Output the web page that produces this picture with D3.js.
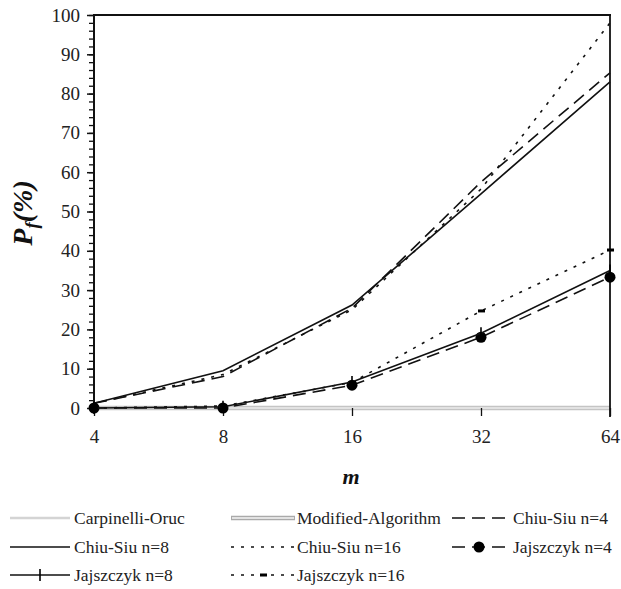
<!DOCTYPE html>
<meta charset="utf-8">
<head>
    <style>
        *{ padding: 0; margin: 0; }
        body{ background: #fff; }
        svg{ display: block; }
    </style>
</head>
<body>
    <svg id="chart" width="621" height="589" font-family="'Liberation Serif', 'Times New Roman', serif"></svg>

    <script src="https://cdn.jsdelivr.net/npm/d3@7/dist/d3.min.js"></script>
    <script>
        // m 值（横轴）
        var mValues = [4, 8, 16, 32, 64];
        var yTicks = [0, 10, 20, 30, 40, 50, 60, 70, 80, 90, 100];

        // 各系列 Pf(%)
        var carpinelliOruc    = [0, 0, 0, 0, 0];
        var modifiedAlgorithm = [0, 0, 0, 0, 0];
        var chiuSiuN4  = [1.2, 8, 25.4, 57.5, 85.3];
        var chiuSiuN8  = [1.2, 9.5, 26.2, 54.5, 83];
        var chiuSiuN16 = [1.2, 8.5, 25, 55.7, 98];
        var jajszczykN4  = [0, 0, 5.8, 18, 33.3];
        var jajszczykN8  = [0, 0.3, 6.6, 19, 35];
        var jajszczykN16 = [0, 0.5, 6.5, 24.7, 40.2];

        var series = [
            {name: "Carpinelli-Oruc", values: carpinelliOruc, style: "light"},
            {name: "Modified-Algorithm", values: modifiedAlgorithm, style: "double"},
            {name: "Chiu-Siu n=4", values: chiuSiuN4, dash: "13,7"},
            {name: "Chiu-Siu n=8", values: chiuSiuN8, dash: null},
            {name: "Chiu-Siu n=16", values: chiuSiuN16, dash: "3,7"},
            {name: "Jajszczyk n=4", values: jajszczykN4, dash: "13,7", marker: "circle"},
            {name: "Jajszczyk n=8", values: jajszczykN8, dash: null, marker: "plus"},
            {name: "Jajszczyk n=16", values: jajszczykN16, dash: "3,7", marker: "bar"}
        ];

        var FONT = "'Liberation Serif', 'Times New Roman', serif";
        var svg = d3.select("#chart");
        var padL = 94, padR = 610, padT = 15, padB = 408;

        var x = d3.scalePoint().domain(mValues).range([padL, padR]);
        var y = d3.scaleLinear().domain([0, 100]).range([padB, padT]);

        var line = d3.line()
            .x(function(d, i) { return x(mValues[i]); })
            .y(function(d) { return y(d); });

        // 灰色基线系列
        var g = svg.append("g");
        series.forEach(function(s) {
            if (s.style === "light") {
                g.append("path").attr("d", line(s.values))
                    .attr("fill", "none").attr("stroke", "#d4d4d4").attr("stroke-width", 2.5);
            } else if (s.style === "double") {
                g.append("path").attr("d", line(s.values))
                    .attr("fill", "none").attr("stroke", "#c4c4c4").attr("stroke-width", 4.5);
                g.append("path").attr("d", line(s.values))
                    .attr("fill", "none").attr("stroke", "#e2e2e2").attr("stroke-width", 2);
            }
        });

        // 坐标轴
        var yAxis = d3.axisLeft(y).tickValues(yTicks).tickSize(7).tickPadding(7);
        var yMinor = d3.axisLeft(y).tickValues(d3.range(0, 101, 2)).tickSize(5).tickFormat("");

        var ya = svg.append("g").attr("transform", "translate(" + padL + ",0)").call(yMinor);
        ya.select(".domain").remove();
        ya.selectAll("line").attr("stroke", "#111").attr("stroke-width", 1.3).attr("x1", 1);

        var yb = svg.append("g").attr("transform", "translate(" + padL + ",0)").call(yAxis)
            .attr("font-family", FONT).attr("font-size", 19);
        yb.select(".domain").remove();
        yb.selectAll("line").attr("stroke", "#111").attr("stroke-width", 1.5).attr("x1", 1);
        yb.selectAll("text").attr("fill", "#222");

        var xAxis = d3.axisBottom(x).tickSize(8).tickPadding(14);
        var xa = svg.append("g").attr("transform", "translate(0," + padB + ")").call(xAxis)
            .attr("font-family", FONT).attr("font-size", 19);
        xa.select(".domain").remove();
        xa.selectAll("line").attr("stroke", "#111").attr("stroke-width", 1.3);
        xa.selectAll("text").attr("fill", "#222");

        svg.append("line").attr("x1", padL).attr("x2", padL).attr("y1", padT - 1).attr("y2", padB + 1)
            .attr("stroke", "#111").attr("stroke-width", 2);
        svg.append("line").attr("x1", padL).attr("x2", padR + 1).attr("y1", padT).attr("y2", padT)
            .attr("stroke", "#111").attr("stroke-width", 1.8);
        svg.append("line").attr("x1", padR).attr("x2", padR).attr("y1", padT).attr("y2", padB + 9)
            .attr("stroke", "#111").attr("stroke-width", 1.8);

        // 黑色系列
        function drawMarker(sel, type, cx, cy) {
            if (type === "circle") {
                sel.append("circle").attr("cx", cx).attr("cy", cy).attr("r", 5.5).attr("fill", "#000");
            } else if (type === "plus") {
                sel.append("line").attr("x1", cx).attr("x2", cx).attr("y1", cy - 6).attr("y2", cy + 6)
                    .attr("stroke", "#000").attr("stroke-width", 1.6);
            } else if (type === "bar") {
                sel.append("rect").attr("x", cx - 3).attr("y", cy - 1.5).attr("width", 7).attr("height", 3)
                    .attr("fill", "#000");
            }
        }

        series.forEach(function(s) {
            if (s.style) return;
            var p = svg.append("path").attr("d", line(s.values))
                .attr("fill", "none").attr("stroke", "#111").attr("stroke-width", 1.6);
            if (s.dash) p.attr("stroke-dasharray", s.dash);
            if (s.marker) {
                s.values.forEach(function(v, i) { drawMarker(svg, s.marker, x(mValues[i]), y(v)); });
            }
        });

        // 轴标题
        var yt = svg.append("text")
            .attr("transform", "translate(32,213) rotate(-90)")
            .attr("text-anchor", "middle")
            .attr("font-family", FONT)
            .attr("font-weight", "bold").attr("font-style", "italic")
            .attr("font-size", 28).attr("fill", "#111");
        yt.append("tspan").text("P");
        yt.append("tspan").attr("font-size", 19).attr("dy", 6).text("f");
        yt.append("tspan").attr("dy", -6).text("(%)");

        svg.append("text").attr("x", 351).attr("y", 484).attr("text-anchor", "middle")
            .attr("font-family", FONT)
            .attr("font-weight", "bold").attr("font-style", "italic").attr("font-size", 22)
            .attr("fill", "#111").text("m");

        // 图例
        var legendCols = [{x0: 10, x1: 70, tx: 74}, {x0: 231, x1: 295, tx: 297}, {x0: 452, x1: 506, tx: 513}];
        var legendRows = [518, 547, 575];
        var legendOrder = ["Carpinelli-Oruc", "Modified-Algorithm", "Chiu-Siu n=4",
            "Chiu-Siu n=8", "Chiu-Siu n=16", "Jajszczyk n=4",
            "Jajszczyk n=8", "Jajszczyk n=16"];

        legendOrder.forEach(function(name, k) {
            var s = series.filter(function(d) { return d.name === name; })[0];
            var c = legendCols[k % 3], ly = legendRows[Math.floor(k / 3)];
            var lg = svg.append("g");
            if (s.style === "light") {
                lg.append("line").attr("x1", c.x0).attr("x2", c.x1).attr("y1", ly).attr("y2", ly)
                    .attr("stroke", "#d4d4d4").attr("stroke-width", 2.5);
            } else if (s.style === "double") {
                lg.append("line").attr("x1", c.x0).attr("x2", c.x1).attr("y1", ly).attr("y2", ly)
                    .attr("stroke", "#aaa").attr("stroke-width", 4.5);
                lg.append("line").attr("x1", c.x0 + 1).attr("x2", c.x1 - 1).attr("y1", ly).attr("y2", ly)
                    .attr("stroke", "#e2e2e2").attr("stroke-width", 2);
            } else {
                var ln = lg.append("line").attr("x1", c.x0).attr("x2", c.x1).attr("y1", ly).attr("y2", ly)
                    .attr("stroke", "#111").attr("stroke-width", 1.6);
                if (s.dash) ln.attr("stroke-dasharray", s.dash);
                if (s.marker) drawMarker(lg, s.marker, (c.x0 + c.x1) / 2, ly);
            }
            lg.append("text").attr("x", c.tx).attr("y", ly).attr("dy", "0.34em")
                .attr("font-family", FONT).attr("font-size", 17.5).attr("fill", "#222")
                .text(name);
        });
    </script>
</body>
